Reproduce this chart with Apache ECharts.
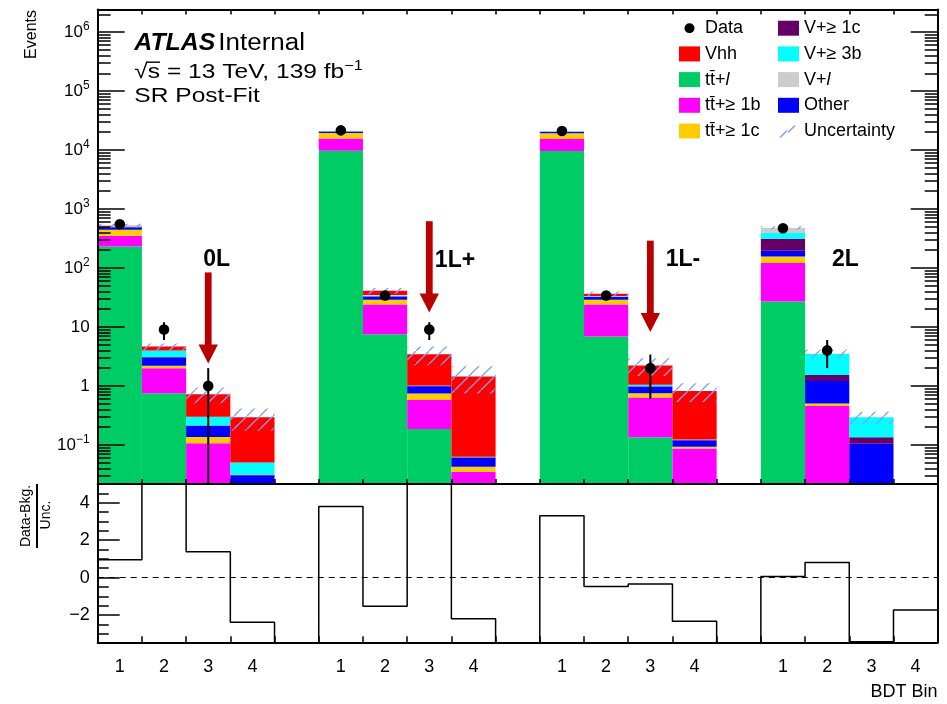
<!DOCTYPE html>
<html><head><meta charset="utf-8">
<script src="https://cdn.jsdelivr.net/npm/echarts@6/dist/echarts.min.js"></script>
<style>html,body{margin:0;padding:0;background:#fff}#c{width:947px;height:704px}</style>
</head><body><div id="c"></div>
<script>
// ---------------- data ----------------
const binLabels = ['1','2','3','4','', '1','2','3','4','', '1','2','3','4','', '1','2','3','4'];
const regionNames = ['0L', '1L+', '1L-', '2L'];
// stack order bottom -> top
const componentNames = ['tt\u0304+l', 'tt\u0304+\u2265 1b', 'tt\u0304+\u2265 1c', 'Other', 'V+\u2265 1c', 'V+\u2265 3b', 'V+l', 'Vhh'];
const ttLight = [230, 0.75, 0, 0, 0, 9700, 7.5, 0.186, 0.005, 0, 9600, 6.9, 0.135, 0.005, 0, 27, 0.005, 0.001, 0.001];
const ttB     = [120, 1.25, 0.106, 0.012, 0, 5900, 16.5, 0.39, 0.03, 0, 5800, 17.1, 0.5, 0.082, 0, 94, 0.45, 0.005, 0];
const ttC     = [95, 0.19, 0.03, 0.003, 0, 3900, 4.8, 0.17, 0.0077, 0, 3900, 4.8, 0.117, 0.006, 0, 36, 0.05, 0.001, 0];
const other   = [40, 0.83, 0.073, 0.015, 0, 1000, 4.0, 0.24, 0.018, 0, 1000, 3.3, 0.22, 0.026, 0, 39, 0.71, 0.097, 0.004];
const vC      = [12, 0.06, 0.004, 0.001, 0, 150, 0.4, 0.02, 0.001, 0, 150, 0.3, 0.01, 0.002, 0, 117, 0.32, 0.031, 0];
const v3b     = [10, 0.9, 0.088, 0.019, 0, 50, 1.0, 0.01, 0.001, 0, 50, 0.6, 0.06, 0.002, 0, 78, 1.95, 0.159, 0.003];
const vLight  = [8, 0, 0, 0, 0, 100, 0.5, 0, 0, 0, 100, 0.3, 0, 0, 0, 85, 0.02, 0, 0];
const vhh     = [5, 0.67, 0.42, 0.244, 0, 20, 6.3, 2.43, 1.38, 0, 20, 3.2, 1.17, 0.70, 0, 1, 0, 0, 0];
const bkgUncertainty = [40, 0.6, 0.22, 0.12, 0, 300, 4.5, 1.2, 0.7, 0, 300, 3.4, 0.74, 0.29, 0, 30, 0.6, 0.07, 0.005];
const dataValues = [550, 9, 1, null, null, 21500, 34, 9, null, null, 21000, 34, 2, null, null, 470, 4, null, null];
const dataErrors = [23, 3, 1, 0, 0, 147, 5.8, 3, 0, 0, 145, 5.8, 1.4, 0, 0, 22, 2, 0, 0];
const pullValues = [0.95, 6, 1.38, -2.39, -6, 3.8, -1.53, 6, -2.2, -6, 3.3, -0.48, -0.34, -2.34, -6, 0.05, 0.80, -3.43, -1.73];
const arrowBins = [2, 7, 12];
const arrowFrom = [84, 620, 290];
const arrowTo   = [2.4, 17.6, 8.2];
const ratioTickLabels = [-2, 0, 2, 4];

// ---------------- styling / layout ----------------
const FONT = '"Liberation Sans", Arial, Helvetica, sans-serif';
const Y_MIN = 0.0217, Y_MAX = 2.41e6;
const R_MIN = -3.46, R_MAX = 5;
const NB = binLabels.length;
const colors = ['#00cc66', '#ff00ff', '#ffcc00', '#0000ff', '#660066', '#00ffff', '#cccccc', '#ff0000'];
const HATCH = '#7ba0f5';
const ARROW = '#b80000';
const GRID_L = 97.7, GRID_R = 947 - 937.7;

// hatch pattern
const pat = document.createElement('canvas');
pat.width = 13; pat.height = 13;
(function () {
  const g = pat.getContext('2d');
  g.strokeStyle = HATCH; g.lineWidth = 1.3;
  g.beginPath();
  g.moveTo(-1, 14); g.lineTo(14, -1);
  g.stroke();
})();

const stacks = [ttLight, ttB, ttC, other, vC, v3b, vLight, vhh];
const cum = new Array(NB).fill(0);
const stackData = stacks.map(arr => arr.map((v, i) => {
  const lo = cum[i]; cum[i] += v; return [i, lo, cum[i]];
}).filter(d => d[2] > d[1]));
const totals = cum.slice();

function rectRender(fill, pattern) {
  return function (params, api) {
    const i = api.value(0), lo = api.value(1), hi = api.value(2);
    if (!(hi > Y_MIN)) return;
    const p0 = api.coord([i, Math.max(lo, Y_MIN)]);
    const p1 = api.coord([i + 1, Math.min(hi, Y_MAX)]);
    return {
      type: 'rect',
      shape: { x: p0[0], y: p1[1], width: p1[0] - p0[0], height: p0[1] - p1[1] },
      style: { fill: pattern ? { image: pat, repeat: 'repeat' } : fill }
    };
  };
}

const series = [];
stackData.forEach((d, k) => series.push({
  type: 'custom', name: componentNames[k], xAxisIndex: 0, yAxisIndex: 0, z: 2,
  itemStyle: { color: colors[k] }, dimensions: ['x', 'lo', 'hi'], encode: { x: 0, y: 2 },
  data: d, clip: true, silent: true, renderItem: rectRender(colors[k], false)
}));
series.push({
  type: 'custom', name: 'Uncertainty', xAxisIndex: 0, yAxisIndex: 0, z: 3,
  itemStyle: { color: HATCH }, dimensions: ['x', 'lo', 'hi'], encode: { x: 0, y: 2 },
  data: totals.map((t, i) => [i, Math.max(t - bkgUncertainty[i], 1e-9), t + bkgUncertainty[i]]).filter(d => d[2] > Y_MIN && bkgUncertainty[d[0]] > 0),
  clip: true, silent: true, renderItem: rectRender(null, true)
});
series.push({
  type: 'custom', name: 'arrows', xAxisIndex: 0, yAxisIndex: 0, z: 4, silent: true,
  dimensions: ['x', 'from', 'to'], encode: { x: 0, y: 1 },
  data: arrowBins.map((b, k) => [b, arrowFrom[k], arrowTo[k]]),
  renderItem: function (params, api) {
    const c = api.value(0) + 0.5;
    const p0 = api.coord([c, api.value(1)]), p1 = api.coord([c, api.value(2)]);
    const hw = 9.7, sw = 3.4, hl = 19;
    return { type: 'group', children: [
      { type: 'rect', shape: { x: p0[0] - sw, y: p0[1], width: 2 * sw, height: p1[1] - hl - p0[1] + 1 }, style: { fill: ARROW } },
      { type: 'polygon', shape: { points: [[p1[0] - hw, p1[1] - hl], [p1[0] + hw, p1[1] - hl], [p1[0], p1[1]]] }, style: { fill: ARROW } }
    ] };
  }
});
series.push({
  type: 'custom', name: 'Data', xAxisIndex: 0, yAxisIndex: 0, z: 5, silent: true,
  itemStyle: { color: '#000' }, dimensions: ['x', 'v', 'lo', 'hi'], encode: { x: 0, y: 1 },
  data: dataValues.map((v, i) => v == null ? null : [i, v, v - dataErrors[i], v + dataErrors[i]]).filter(d => d),
  renderItem: function (params, api) {
    const c = api.value(0) + 0.5;
    const p = api.coord([c, api.value(1)]);
    const pl = api.coord([c, Math.max(api.value(2), Y_MIN)]);
    const ph = api.coord([c, api.value(3)]);
    return { type: 'group', children: [
      { type: 'line', shape: { x1: p[0], y1: pl[1], x2: p[0], y2: ph[1] }, style: { stroke: '#000', lineWidth: 2 } },
      { type: 'circle', shape: { cx: p[0], cy: p[1], r: 5.3 }, style: { fill: '#000' } }
    ] };
  }
});
const pullPts = pullValues.map((v, i) => [i, v]);
pullPts.push([NB, pullValues[NB - 1]]);
series.push({
  type: 'line', name: 'pull', xAxisIndex: 2, yAxisIndex: 4, z: 3, silent: true,
  data: pullPts, step: 'end', symbol: 'none', clip: true, animation: false,
  lineStyle: { color: '#000', width: 1.5 },
  markLine: { silent: true, symbol: 'none', label: { show: false }, animation: false,
    lineStyle: { color: '#000', type: [6, 5], width: 1.2 }, data: [{ yAxis: 0 }] }
});

// ticks
const minorLog = [];
for (let n = -2; n <= 6; n++) for (let k = 2; k <= 9; k++) {
  const v = Math.log10(k) + n;
  if (v > Math.log10(Y_MIN) && v < Math.log10(Y_MAX)) minorLog.push(v);
}
const minorRatio = [];
for (let v = -3; v <= 4.5; v += 0.5) if (ratioTickLabels.indexOf(v) < 0) minorRatio.push(v);

const blackLine = { show: true, onZero: false, lineStyle: { color: '#000', width: 2 } };
function logLabel(v) {
  const e = Math.log10(v), r = Math.round(e);
  if (Math.abs(e - r) > 1e-6) return '';
  if (r === 0) return '1';
  if (r === 1) return '10';
  return '10{sup|' + (r < 0 ? '\u2212' + (-r) : r) + '}';
}
const xBase = (grid, pos, len) => ({
  type: 'value', gridIndex: grid, position: pos, min: 0, max: NB, interval: 1, z: 10,
  axisLine: blackLine, axisTick: { show: true, inside: true, length: len, lineStyle: { color: '#000', width: 1.5 } },
  axisLabel: { show: false }, splitLine: { show: false }
});

const svgIcon = s => 'image://data:image/svg+xml;charset=utf-8,' + encodeURIComponent(s);
const dataIcon = svgIcon('<svg xmlns="http://www.w3.org/2000/svg" width="21" height="15"><circle cx="10.5" cy="7.5" r="5" fill="#000"/></svg>');
const uncIcon = svgIcon('<svg xmlns="http://www.w3.org/2000/svg" width="21" height="15"><g stroke="' + HATCH + '" stroke-width="1.4"><line x1="2" y1="14" x2="9" y2="7"/><line x1="10" y1="9" x2="17" y2="2"/></g></svg>');

const legendText = {
  fontSize: 18, fontFamily: FONT, color: '#000', lineHeight: 15,
  rich: { it: { fontSize: 18, fontFamily: FONT, fontStyle: 'italic', color: '#000' } }
};
const legendFmt = name => name.replace(/\+l$/, '+{it|l}');
const legendItem = name => name === 'Data' ? { name, icon: dataIcon } : name === 'Uncertainty' ? { name, icon: uncIcon } : { name, icon: 'rect' };
const legBase = {
  orient: 'vertical', top: 19.2, itemWidth: 21, itemHeight: 15, itemGap: 7.7, padding: 0,
  selectedMode: false, textStyle: legendText, formatter: legendFmt, inactiveColor: '#000'
};

const titleText = (x, y, text, font, sx, extra) => ({
  type: 'text', x: x, y: y, z: 20, scaleX: sx, scaleY: 1,
  style: Object.assign({ text: text, fill: '#000', font: font, verticalAlign: 'middle', textVerticalAlign: 'middle' }, extra || {})
});
const regionText = (x, y, text) => ({
  type: 'text', x: x, y: y, z: 20,
  style: { text: text, fill: '#000', font: 'bold 23px ' + FONT, align: 'center', textAlign: 'center', verticalAlign: 'middle', textVerticalAlign: 'middle' }
});

const option = {
  animation: false,
  backgroundColor: '#fff',
  textStyle: { fontFamily: FONT },
  grid: [
    { left: GRID_L, right: GRID_R, top: 9.5, height: 474.5, containLabel: false, outerBoundsMode: 'none' },
    { left: GRID_L, right: GRID_R, top: 484, height: 158.3, containLabel: false, outerBoundsMode: 'none' }
  ],
  legend: [
    Object.assign({ left: 679 }, legBase, { data: ['Data', 'Vhh', componentNames[0], componentNames[1], componentNames[2]].map(legendItem) }),
    Object.assign({ left: 778 }, legBase, { data: [componentNames[4], componentNames[5], componentNames[6], 'Other', 'Uncertainty'].map(legendItem) })
  ],
  xAxis: [
    xBase(0, 'bottom', 5),
    xBase(0, 'top', 5),
    xBase(1, 'bottom', 6),
    { type: 'category', gridIndex: 1, position: 'bottom', data: binLabels, z: 10,
      axisLine: { show: false }, axisTick: { show: false }, splitLine: { show: false },
      axisLabel: { interval: 0, fontSize: 18, fontFamily: FONT, color: '#000', margin: 16 } }
  ],
  yAxis: [
    { type: 'log', gridIndex: 0, position: 'left', min: Y_MIN, max: Y_MAX, z: 10, logBase: 10,
      axisLine: blackLine, splitLine: { show: false },
      axisTick: { show: true, inside: true, length: 27, lineStyle: { color: '#000', width: 1.5 } },
      axisLabel: { formatter: logLabel, fontSize: 17, fontFamily: FONT, color: '#000', margin: 8,
        rich: { sup: { fontSize: 12, fontFamily: FONT, color: '#000', padding: [0, 0, 11, 0] } } } },
    { type: 'value', gridIndex: 0, position: 'left', min: Math.log10(Y_MIN), max: Math.log10(Y_MAX), z: 10,
      axisLine: { show: false, onZero: false }, splitLine: { show: false }, axisLabel: { show: false },
      axisTick: { show: true, inside: true, length: 13, customValues: minorLog, lineStyle: { color: '#000', width: 1.5 } } },
    { type: 'log', gridIndex: 0, position: 'right', min: Y_MIN, max: Y_MAX, z: 10, logBase: 10,
      axisLine: blackLine, splitLine: { show: false }, axisLabel: { show: false },
      axisTick: { show: true, inside: true, length: 27, lineStyle: { color: '#000', width: 1.5 } } },
    { type: 'value', gridIndex: 0, position: 'right', min: Math.log10(Y_MIN), max: Math.log10(Y_MAX), z: 10,
      axisLine: { show: false, onZero: false }, splitLine: { show: false }, axisLabel: { show: false },
      axisTick: { show: true, inside: true, length: 13, customValues: minorLog, lineStyle: { color: '#000', width: 1.5 } } },
    { type: 'value', gridIndex: 1, position: 'left', min: R_MIN, max: R_MAX, z: 10,
      axisLine: blackLine, splitLine: { show: false },
      axisTick: { show: true, inside: true, length: 22, customValues: ratioTickLabels, lineStyle: { color: '#000', width: 1.5 } },
      axisLabel: { customValues: ratioTickLabels, fontSize: 18, fontFamily: FONT, color: '#000', margin: 8,
        formatter: v => (v < 0 ? '\u2212' + Math.abs(v) : String(v)) } },
    { type: 'value', gridIndex: 1, position: 'left', min: R_MIN, max: R_MAX, z: 10,
      axisLine: { show: false, onZero: false }, splitLine: { show: false }, axisLabel: { show: false },
      axisTick: { show: true, inside: true, length: 11, customValues: minorRatio, lineStyle: { color: '#000', width: 1.5 } } },
    { type: 'value', gridIndex: 1, position: 'right', min: R_MIN, max: R_MAX, z: 10,
      axisLine: blackLine, splitLine: { show: false }, axisLabel: { show: false }, axisTick: { show: false } }
  ],
  graphic: [
    titleText(134.3, 44, 'ATLAS', 'italic bold 23px ' + FONT, 1.08),
    titleText(218.3, 44, 'Internal', '23px ' + FONT, 1.13),
    titleText(134.3, 72.5, '\u221As = 13 TeV, 139 fb{sup|\u22121}', '21px ' + FONT, 1.17,
      { fontSize: 21, fontFamily: FONT, rich: { sup: { fontSize: 14, fontFamily: FONT, fill: '#000', padding: [0, 0, 12, 0] } } }),
    { type: 'rect', z: 20, shape: { x: 146.5, y: 61.5, width: 13.5, height: 1.4 }, style: { fill: '#000' } },
    titleText(134.3, 96.3, 'SR Post-Fit', '21px ' + FONT, 1.17),
    regionText(216.7, 260, regionNames[0]),
    regionText(455, 261, regionNames[1]),
    regionText(683, 260, regionNames[2]),
    regionText(845.5, 260, regionNames[3]),
    { type: 'text', x: 32, y: 10, rotation: Math.PI / 2, z: 20, style: { text: 'Events', fill: '#000', font: '16px ' + FONT, align: 'right', textAlign: 'right', verticalAlign: 'middle', textVerticalAlign: 'middle' } },
    { type: 'text', x: 26.5, y: 516, rotation: Math.PI / 2, z: 20, style: { text: 'Data-Bkg.', fill: '#000', font: '14px ' + FONT, align: 'center', textAlign: 'center', verticalAlign: 'middle', textVerticalAlign: 'middle' } },
    { type: 'rect', z: 20, shape: { x: 36, y: 484, width: 2, height: 64 }, style: { fill: '#000' } },
    { type: 'text', x: 46, y: 515, rotation: Math.PI / 2, z: 20, style: { text: 'Unc.', fill: '#000', font: '14px ' + FONT, align: 'center', textAlign: 'center', verticalAlign: 'middle', textVerticalAlign: 'middle' } },
    { type: 'text', x: 937.5, y: 692.5, z: 20, style: { text: 'BDT Bin', fill: '#000', font: '18px ' + FONT, align: 'right', textAlign: 'right', verticalAlign: 'middle', textVerticalAlign: 'middle' } }
  ],
  series: series
};

const chart = echarts.init(document.getElementById('c'), null, { renderer: 'canvas' });
chart.setOption(option);
</script>
</body></html>
